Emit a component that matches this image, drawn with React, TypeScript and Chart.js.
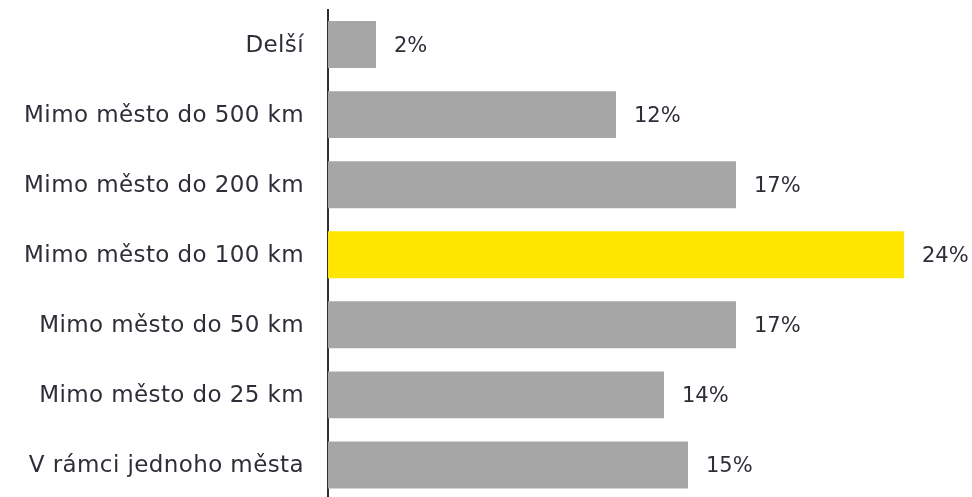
import React, { useEffect, useRef } from "react";
import { Chart, registerables } from "chart.js";

Chart.register(...registerables);

const categories = [
  "Delší",
  "Mimo město do 500 km",
  "Mimo město do 200 km",
  "Mimo město do 100 km",
  "Mimo město do 50 km",
  "Mimo město do 25 km",
  "V rámci jednoho města",
];
const values = [2, 12, 17, 24, 17, 14, 15];
const highlightIndex = 3;

const GREY = "#a6a6a6";
const YELLOW = "#ffe600";
const TEXT = "#2e2e38";
const FONT = "'DejaVu Sans', sans-serif";

const spacing = {
  id: "spacing",
  beforeDraw(chart: any) {
    chart.ctx.letterSpacing = "0.4px";
  },
  afterDraw(chart: any) {
    chart.ctx.letterSpacing = "0px";
  },
};

const valueLabels = {
  id: "valueLabels",
  afterDatasetsDraw(chart: any) {
    const ctx = chart.ctx;
    const meta = chart.getDatasetMeta(0);
    ctx.save();
    ctx.letterSpacing = "0px";
    ctx.fillStyle = TEXT;
    ctx.font = `21px ${FONT}`;
    ctx.textAlign = "left";
    ctx.textBaseline = "middle";
    meta.data.forEach((bar: any, i: number) => {
      ctx.fillText(`${values[i]}%`, bar.x + 18, bar.y + 2);
    });
    ctx.restore();
  },
};

export default function App() {
  const ref = useRef<HTMLCanvasElement>(null);
  useEffect(() => {
    if (!ref.current) return;
    const chart = new Chart(ref.current, {
      type: "bar",
      data: {
        labels: categories,
        datasets: [
          {
            data: values,
            backgroundColor: values.map((_, i) => (i === highlightIndex ? YELLOW : GREY)),
            barPercentage: 0.67,
            categoryPercentage: 1,
          },
        ],
      },
      options: {
        indexAxis: "y",
        animation: false,
        responsive: false,
        maintainAspectRatio: false,
        layout: { padding: { top: 9.5, right: 0, left: 0, bottom: 0 } },
        plugins: {
          legend: { display: false },
          tooltip: { enabled: false },
        },
        scales: {
          x: {
            display: false,
            min: 0,
            max: (972 - 328) / 24,
          },
          y: {
            afterFit(scale: any) {
              scale.width = 328;
              scale.paddingTop = 0;
              scale.paddingBottom = 0;
            },
            grid: { display: false, drawTicks: false },
            border: { display: true, color: "#2e2e38", width: 2 },
            ticks: {
              color: TEXT,
              font: { family: FONT, size: 23 },
              padding: 24,
              labelOffset: 1.5,
            },
          },
        },
      },
      plugins: [spacing, valueLabels],
    });
    return () => chart.destroy();
  }, []);
  return (
    <div style={{ position: "fixed", left: 0, top: 0, width: 972, height: 497, overflow: "hidden", background: "#fff" }}>
      <canvas ref={ref} width={972} height={500} style={{ display: "block" }} />
    </div>
  );
}
